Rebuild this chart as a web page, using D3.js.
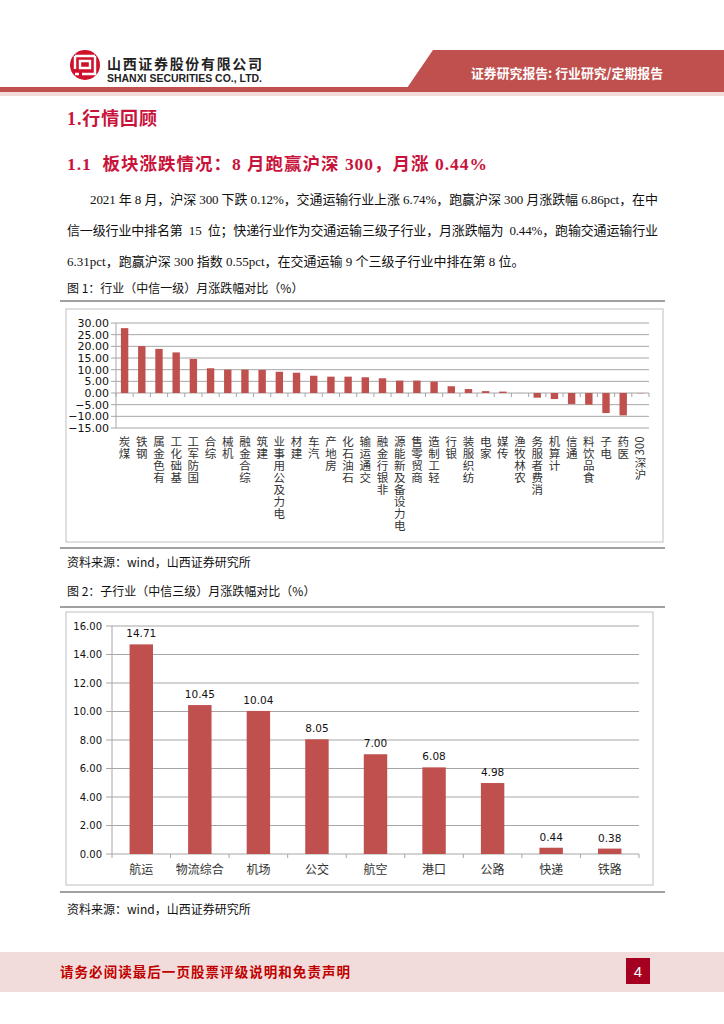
<!DOCTYPE html>
<html lang="zh">
<head>
<meta charset="UTF-8">
<title>山西证券 行业研究 第4页</title>
<script src="https://d3js.org/d3.v7.min.js"></script>
<style>
  body { margin: 0; padding: 0; background: #fff; }
  svg { display: block; }
  .cjk { font-family: "Noto Sans CJK SC", sans-serif; }
  .num { font-family: "DejaVu Sans", sans-serif; }
  .para { font-family: "Liberation Serif", "Noto Sans CJK SC", serif; font-size: 13px; fill: #111; }
</style>
</head>
<body>
<div id="page"></div>
<script>
// 图1 数据：中信一级行业 8 月涨跌幅
const industries = ["煤炭", "钢铁", "有色金属", "基础化工", "国防军工", "综合", "机械", "综合金融",
  "建筑", "电力及公用事业", "建材", "汽车", "房地产", "石油石化", "交通运输", "非银行金融",
  "电力设备及新能源", "商贸零售", "轻工制造", "银行", "纺织服装", "家电", "传媒", "农林牧渔",
  "消费者服务", "计算机", "通信", "食品饮料", "电子", "医药", "沪深300"];
const industryChg = [27.8, 20.1, 18.9, 17.4, 14.6, 10.6, 10.0, 10.0,
  9.9, 9.1, 8.7, 7.4, 7.0, 7.0, 6.74, 6.3,
  5.3, 5.3, 4.9, 2.9, 1.7, 0.8, 0.6, -0.05,
  -2.0, -2.6, -4.7, -5.0, -8.6, -9.6, -0.12];
const ticks1 = [-15, -10, -5, 0, 5, 10, 15, 20, 25, 30];

// 图2 数据：交通运输三级子行业
const subIndustries = ["航运", "物流综合", "机场", "公交", "航空", "港口", "公路", "快递", "铁路"];
const subChg = [14.71, 10.45, 10.04, 8.05, 7.00, 6.08, 4.98, 0.44, 0.38];
const ticks2 = [0, 2, 4, 6, 8, 10, 12, 14, 16];

const paraLines = [
  "2021 年 8 月，沪深 300 下跌 0.12%，交通运输行业上涨 6.74%，跑赢沪深 300 月涨跌幅 6.86pct，在中",
  "信一级行业中排名第  15  位；快递行业作为交通运输三级子行业，月涨跌幅为  0.44%，跑输交通运输行业",
  "6.31pct，跑赢沪深 300 指数 0.55pct，在交通运输 9 个三级子行业中排在第 8 位。"
];

const W = 724, H = 1024;
const red = "#c0504d";
const titleRed = "#c8133b";

const svg = d3.select("#page").append("svg")
  .attr("width", W).attr("height", H);

svg.append("rect").attr("width", W).attr("height", H).attr("fill", "#fff");

// ---------- header ----------
const header = svg.append("g");
header.append("path")
  .attr("d", "M433,50 L724,50 L724,88 L407,88 Z")
  .attr("fill", red);
header.append("rect").attr("x", 0).attr("y", 87).attr("width", W).attr("height", 5).attr("fill", red);
header.append("rect").attr("x", 0).attr("y", 92).attr("width", W).attr("height", 4).attr("fill", "#f2dcdb");
header.append("text")
  .attr("class", "cjk")
  .attr("x", 471).attr("y", 78)
  .attr("textLength", 192).attr("lengthAdjust", "spacingAndGlyphs")
  .attr("font-size", 13).attr("font-weight", "bold").attr("fill", "#fff")
  .text("证券研究报告: 行业研究/定期报告");

// logo
const logo = header.append("g").attr("transform", "translate(85,65)");
logo.append("circle").attr("r", 15).attr("fill", "#d0112b");
logo.append("path")
  .attr("d", "M-10,-9 H10 M-10,-9 V4 M10,-9 V9 H-3 M-5,-4 H5 V3 H-5 Z M-10,9 H-6")
  .attr("fill", "none").attr("stroke", "#fff").attr("stroke-width", 2.4);
header.append("text")
  .attr("class", "cjk")
  .attr("x", 107).attr("y", 69)
  .attr("textLength", 155).attr("lengthAdjust", "spacing")
  .attr("font-size", 14).attr("font-weight", "bold").attr("fill", "#222")
  .text("山西证券股份有限公司");
header.append("text")
  .attr("x", 107).attr("y", 82)
  .attr("textLength", 155).attr("lengthAdjust", "spacingAndGlyphs")
  .attr("font-family", "Liberation Sans, Arial, sans-serif")
  .attr("font-size", 10.5).attr("font-weight", "bold").attr("fill", "#222")
  .text("SHANXI SECURITIES CO., LTD.");

// ---------- titles & text ----------
svg.append("text")
  .attr("x", 67).attr("y", 125)
  .attr("font-family", "Liberation Serif, Noto Sans CJK SC, serif")
  .attr("font-size", 18).attr("font-weight", "bold").attr("fill", titleRed)
  .attr("textLength", 90).attr("lengthAdjust", "spacing")
  .text("1.行情回顾");
svg.append("text")
  .attr("x", 67).attr("y", 170)
  .attr("font-family", "Liberation Serif, Noto Sans CJK SC, serif")
  .attr("font-size", 17.5).attr("font-weight", "bold").attr("fill", titleRed)
  .attr("xml:space", "preserve")
  .attr("textLength", 420).attr("lengthAdjust", "spacing")
  .text("1.1  板块涨跌情况：8 月跑赢沪深 300，月涨 0.44%");

const paraX = [90, 67, 67];
const paraLen = [568, 591, null];
paraLines.forEach((s, i) => {
  const t = svg.append("text")
    .attr("class", "para")
    .attr("x", paraX[i]).attr("y", 204 + i * 31)
    .attr("xml:space", "preserve")
    .text(s);
  if (paraLen[i]) t.attr("textLength", paraLen[i]).attr("lengthAdjust", "spacing");
});

function caption(txt, y) {
  svg.append("text")
    .attr("class", "cjk")
    .attr("x", 67).attr("y", y)
    .attr("font-size", 12).attr("fill", "#111")
    .text(txt);
}
caption("图 1：行业（中信一级）月涨跌幅对比（%）", 293);
caption("资料来源：wind，山西证券研究所", 567);
caption("图 2：子行业（中信三级）月涨跌幅对比（%）", 596);
caption("资料来源：wind，山西证券研究所", 914);

// frame rules + inner box
function frame(top, bottom, box) {
  svg.append("line").attr("x1", 60).attr("x2", 665).attr("y1", top).attr("y2", top)
    .attr("stroke", "#808080").attr("stroke-width", 1.5);
  svg.append("line").attr("x1", 60).attr("x2", 665).attr("y1", bottom).attr("y2", bottom)
    .attr("stroke", "#808080").attr("stroke-width", 1.5);
  svg.append("rect").attr("x", box[0]).attr("y", box[1])
    .attr("width", box[2] - box[0]).attr("height", box[3] - box[1])
    .attr("fill", "none").attr("stroke", "#bfbfbf").attr("stroke-width", 1);
}

// ---------- chart 1 ----------
frame(301, 548, [66, 309, 663, 542]);

const x1 = d3.scaleBand().domain(industries).range([116, 649]).paddingInner(0.57).paddingOuter(0.285);
const y1 = d3.scaleLinear().domain([-15, 30]).range([428, 323]);

const c1 = svg.append("g");
c1.selectAll(".grid").data(ticks1).join("line")
  .attr("x1", 111).attr("x2", 649)
  .attr("y1", d => y1(d)).attr("y2", d => y1(d))
  .attr("stroke", "#a6a6a6").attr("stroke-width", 1);
c1.append("line").attr("x1", 116).attr("x2", 116).attr("y1", y1(30)).attr("y2", y1(-15))
  .attr("stroke", "#a6a6a6");
c1.selectAll(".ylab").data(ticks1).join("text")
  .attr("class", "num")
  .attr("x", 109).attr("y", d => y1(d) + 4)
  .attr("text-anchor", "end").attr("font-size", 11).attr("fill", "#111")
  .text(d => d3.format(".2f")(d));

c1.selectAll(".bar").data(industries).join("rect")
  .attr("x", d => x1(d))
  .attr("width", x1.bandwidth())
  .attr("y", (d, i) => y1(Math.max(0, industryChg[i])))
  .attr("height", (d, i) => Math.abs(y1(industryChg[i]) - y1(0)))
  .attr("fill", red);

const bounds1 = d3.range(industries.length + 1).map(i => 116 + i * x1.step());
c1.selectAll(".xt").data(bounds1).join("line")
  .attr("x1", d => d).attr("x2", d => d)
  .attr("y1", y1(0)).attr("y2", y1(0) + 4)
  .attr("stroke", "#a6a6a6");

// labels rotated 270°: read bottom-to-top, CJK glyphs kept upright, end of label at top
const labTop = 436, labFs = 11.5, charStep = 12;
industries.forEach(name => {
  const cx = x1(name) + x1.bandwidth() / 2;
  // runs of ascii / cjk, reversed so the label's end sits at the top
  const runs = name.match(/[\x00-\x7f]+|[^\x00-\x7f]+/g).reverse();
  let yy = labTop;
  runs.forEach(run => {
    if (/^[\x00-\x7f]+$/.test(run)) {
      const len = run.length * labFs * 0.58;
      c1.append("text")
        .attr("class", "cjk")
        .attr("transform", `translate(${cx + 4},${yy + len / 2}) rotate(-90)`)
        .attr("text-anchor", "middle")
        .attr("font-size", labFs).attr("fill", "#333")
        .text(run);
      yy += len + 1;
    } else {
      const chars = Array.from(run).reverse().join("");
      c1.append("text")
        .attr("class", "cjk")
        .attr("x", cx).attr("y", yy)
        .attr("font-size", labFs).attr("fill", "#333")
        .style("writing-mode", "vertical-rl")
        .style("letter-spacing", (charStep - labFs) + "px")
        .text(chars);
      yy += chars.length * charStep;
    }
  });
});

// ---------- chart 2 ----------
frame(607, 892, [66, 612, 653, 885]);

const x2 = d3.scaleBand().domain(subIndustries).range([112, 639]).paddingInner(0.6).paddingOuter(0.3);
const y2 = d3.scaleLinear().domain([0, 16]).range([854, 626]);

const c2 = svg.append("g");
c2.selectAll(".grid").data(ticks2).join("line")
  .attr("x1", 106).attr("x2", 639)
  .attr("y1", d => y2(d)).attr("y2", d => y2(d))
  .attr("stroke", "#a6a6a6");
c2.append("line").attr("x1", 112).attr("x2", 112).attr("y1", y2(16)).attr("y2", y2(0))
  .attr("stroke", "#a6a6a6");
c2.selectAll(".ylab").data(ticks2).join("text")
  .attr("class", "num")
  .attr("x", 102).attr("y", d => y2(d) + 3.5)
  .attr("text-anchor", "end").attr("font-size", 10).attr("fill", "#111")
  .text(d => d3.format(".2f")(d));

c2.selectAll(".bar").data(subIndustries).join("rect")
  .attr("x", d => x2(d))
  .attr("width", x2.bandwidth())
  .attr("y", (d, i) => y2(subChg[i]))
  .attr("height", (d, i) => y2(0) - y2(subChg[i]))
  .attr("fill", red);

c2.selectAll(".vlab").data(subIndustries).join("text")
  .attr("class", "num")
  .attr("x", d => x2(d) + x2.bandwidth() / 2)
  .attr("y", (d, i) => y2(subChg[i]) - 7)
  .attr("text-anchor", "middle").attr("font-size", 10.5).attr("fill", "#111")
  .text((d, i) => d3.format(".2f")(subChg[i]));

const bounds2 = d3.range(subIndustries.length + 1).map(i => 112 + i * x2.step());
c2.selectAll(".xt").data(bounds2).join("line")
  .attr("x1", d => d).attr("x2", d => d)
  .attr("y1", y2(0)).attr("y2", y2(0) + 4)
  .attr("stroke", "#a6a6a6");

c2.selectAll(".xlab").data(subIndustries).join("text")
  .attr("class", "cjk")
  .attr("x", d => x2(d) + x2.bandwidth() / 2)
  .attr("y", 874)
  .attr("text-anchor", "middle").attr("font-size", 12).attr("fill", "#333")
  .text(d => d);

// ---------- footer ----------
svg.append("rect").attr("x", 0).attr("y", 952).attr("width", W).attr("height", 40).attr("fill", "#f2dcdb");
svg.append("text")
  .attr("class", "cjk")
  .attr("x", 60).attr("y", 977)
  .attr("textLength", 290).attr("lengthAdjust", "spacing")
  .attr("font-size", 13.5).attr("font-weight", "bold").attr("fill", "#c00000")
  .text("请务必阅读最后一页股票评级说明和免责声明");
svg.append("rect").attr("x", 626).attr("y", 958).attr("width", 24).attr("height", 26).attr("fill", "#a50021");
svg.append("text")
  .attr("x", 638).attr("y", 977)
  .attr("text-anchor", "middle")
  .attr("font-family", "Liberation Sans, Arial, sans-serif")
  .attr("font-size", 15).attr("fill", "#fff")
  .text("4");
</script>
</body>
</html>
